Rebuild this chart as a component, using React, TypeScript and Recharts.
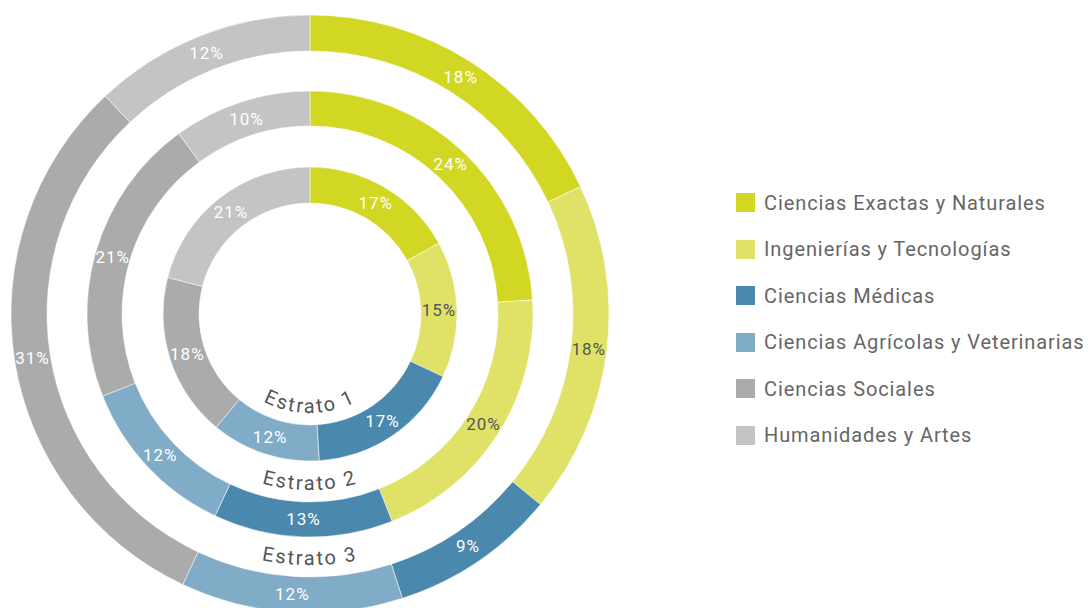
import { PieChart, Pie, Cell, Legend } from "recharts";

const categories = [
  "Ciencias Exactas y Naturales",
  "Ingenierías y Tecnologías",
  "Ciencias Médicas",
  "Ciencias Agrícolas y Veterinarias",
  "Ciencias Sociales",
  "Humanidades y Artes",
];

const COLORS = ["#d2d724", "#e0e268", "#4a88ad", "#80acc7", "#ababab", "#c4c4c4"];
const LABEL_COLORS = ["#ffffff", "#555555", "#ffffff", "#ffffff", "#ffffff", "#ffffff"];

const estrato1 = [17, 15, 17, 12, 18, 21];
const estrato2 = [24, 20, 13, 12, 21, 10];
const estrato3 = [18, 18, 9, 12, 31, 12];

const ringNames = ["Estrato 1", "Estrato 2", "Estrato 3"];

const CX = 310;
const CY = 314;
const RINGS = [
  { inner: 111, outer: 147 },
  { inner: 188, outer: 223 },
  { inner: 263, outer: 299 },
];

const FONT = "Roboto, 'DejaVu Sans', sans-serif";
const RADIAN = Math.PI / 180;

const toData = (values: number[]) =>
  categories.map((name, i) => ({ name, value: values[i] }));

const renderLabel = (props: any) => {
  const { cx, cy, midAngle, innerRadius, outerRadius, value, index } = props;
  const r = (innerRadius + outerRadius) / 2;
  const x = cx + r * Math.cos(-midAngle * RADIAN);
  const y = cy + r * Math.sin(-midAngle * RADIAN);
  return (
    <text
      x={x}
      y={y}
      fill={LABEL_COLORS[index]}
      textAnchor="middle"
      dominantBaseline="central"
      fontSize={17}
      letterSpacing={1}
      fontFamily={FONT}
    >
      {`${value}%`}
    </text>
  );
};

function LegendBox() {
  return (
    <div style={{ fontFamily: FONT }}>
      {categories.map((name, i) => (
        <div key={name} style={{ display: "flex", alignItems: "center", height: 46.5 }}>
          <span
            style={{
              display: "inline-block",
              width: 19,
              height: 19,
              background: COLORS[i],
              marginRight: 9,
            }}
          />
          <span style={{ fontSize: 20, color: "#666", letterSpacing: 0.9 }}>{name}</span>
        </div>
      ))}
    </div>
  );
}

export default function App() {
  const series = [estrato1, estrato2, estrato3];
  return (
    <div style={{ position: "absolute", left: 0, top: 0, width: 1088, height: 608, background: "#fff" }}>
      <PieChart width={1088} height={608} margin={{ top: 0, right: 0, bottom: 0, left: 0 }}>
        {series.map((values, s) => (
          <Pie
            key={ringNames[s]}
            data={toData(values)}
            dataKey="value"
            nameKey="name"
            cx={CX}
            cy={CY}
            innerRadius={RINGS[s].inner}
            outerRadius={RINGS[s].outer}
            startAngle={90}
            endAngle={-270}
            stroke="#fff"
            strokeWidth={0.5}
            label={renderLabel}
            labelLine={false}
            isAnimationActive={false}
          >
            {values.map((_, i) => (
              <Cell key={`cell-${s}-${i}`} fill={COLORS[i]} />
            ))}
          </Pie>
        ))}
        <g>
          <defs>
            {RINGS.map((ring, s) => {
              const r = ring.inner - 12;
              return (
                <path
                  key={`arc-${s}`}
                  id={`arc-${s}`}
                  d={`M ${CX - r} ${CY} A ${r} ${r} 0 0 0 ${CX + r} ${CY}`}
                  fill="none"
                />
              );
            })}
          </defs>
          {ringNames.map((name, s) => (
            <text
              key={name}
              fontSize={20}
              letterSpacing={2}
              fill="#555"
              fontFamily={FONT}
            >
              <textPath href={`#arc-${s}`} startOffset="50%" textAnchor="middle">
                {name}
              </textPath>
            </text>
          ))}
        </g>
        <Legend
          content={() => <LegendBox />}
          wrapperStyle={{ position: "absolute", left: 736, top: 179.5, width: 352 }}
        />
      </PieChart>
    </div>
  );
}
